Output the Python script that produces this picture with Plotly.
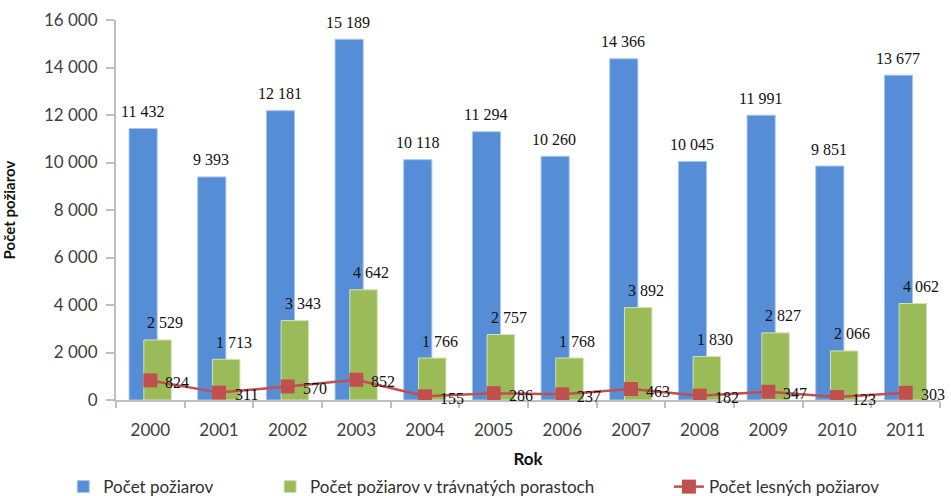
import plotly.graph_objects as go

years = ["2000", "2001", "2002", "2003", "2004", "2005", "2006", "2007", "2008", "2009", "2010", "2011"]
total_fires = [11432, 9393, 12181, 15189, 10118, 11294, 10260, 14366, 10045, 11991, 9851, 13677]
grass_fires = [2529, 1713, 3343, 4642, 1766, 2757, 1768, 3892, 1830, 2827, 2066, 4062]
forest_fires = [824, 311, 570, 852, 155, 286, 237, 463, 182, 347, 123, 303]
y_ticks = [0, 2000, 4000, 6000, 8000, 10000, 12000, 14000, 16000]

BLUE = "#558DD6"
GREEN = "#9BBB59"
RED = "#C0504D"


def fmt(v):
    return f"{v:,}".replace(",", " ")


fig = go.Figure()
fig.add_trace(go.Bar(
    x=years, y=total_fires, name="Počet požiarov",
    marker=dict(color=BLUE, line=dict(color="#A9C6EC", width=1)),
    offset=-0.31, width=0.41, legend="legend",
))
fig.add_trace(go.Bar(
    x=years, y=grass_fires, name="Počet požiarov v trávnatých porastoch",
    marker=dict(color=GREEN, line=dict(color="#D3E2B6", width=1)),
    offset=-0.095, width=0.40, legend="legend2",
))
fig.add_trace(go.Scatter(
    x=years, y=forest_fires, name="Počet lesných požiarov",
    mode="lines+markers",
    line=dict(color=RED, width=2.5),
    marker=dict(symbol="square", size=14, color=RED),
    legend="legend3",
))

label_font = dict(family="Liberation Serif", size=16, color="#111111")
annotations = []
for i, v in enumerate(total_fires):
    annotations.append(dict(x=i, y=v, text=fmt(v), showarrow=False, xref="x", yref="y",
                            xshift=-8, yshift=17, font=label_font))
for i, v in enumerate(grass_fires):
    annotations.append(dict(x=i, y=v, text=fmt(v), showarrow=False, xref="x", yref="y",
                            xshift=15, yshift=17, font=label_font))
for i, v in enumerate(forest_fires):
    annotations.append(dict(x=i, y=v, text=fmt(v), showarrow=False, xref="x", yref="y",
                            xshift=27, yshift=-2, font=label_font))

axis_font = dict(family="Lato", size=17, color="#404040")
legend_font = dict(family="Lato", size=17, color="#303030")
leg_common = dict(orientation="h", yref="container", y=0.018, xanchor="left", yanchor="middle",
                  font=legend_font, bgcolor="rgba(0,0,0,0)")

fig.update_layout(
    width=951, height=496,
    margin=dict(l=116, r=11, t=20, b=96, autoexpand=False),
    plot_bgcolor="white", paper_bgcolor="white",
    barmode="overlay",
    annotations=annotations,
    xaxis=dict(
        type="category", range=[-0.5, len(years) - 0.5], autorange=False,
        showgrid=False, showline=True, linecolor="#BFBFBF", linewidth=2,
        ticks="outside", tickson="boundaries", ticklen=6, tickcolor="#BFBFBF", tickwidth=2,
        tickfont=axis_font, ticklabelstandoff=14, tickangle=0,
        title=dict(text="<b>Rok</b>", font=dict(family="Lato", size=17, color="#111111"), standoff=40),
    ),
    yaxis=dict(
        range=[0, 16000], tickvals=y_ticks, ticktext=[fmt(t) for t in y_ticks],
        showgrid=False, showline=True, linecolor="#BFBFBF", linewidth=2,
        ticks="outside", ticklen=8, tickcolor="#BFBFBF", tickwidth=2,
        tickfont=axis_font, zeroline=False, ticklabelstandoff=5,
        title=dict(text="<b>Počet požiarov</b>", font=dict(family="Lato", size=15, color="#111111"), standoff=25),
    ),
    legend=dict(x=-0.064, **leg_common),
    legend2=dict(x=0.187, **leg_common),
    legend3=dict(x=0.671, **leg_common),
    showlegend=True,
)

fig.write_html("out.html")
